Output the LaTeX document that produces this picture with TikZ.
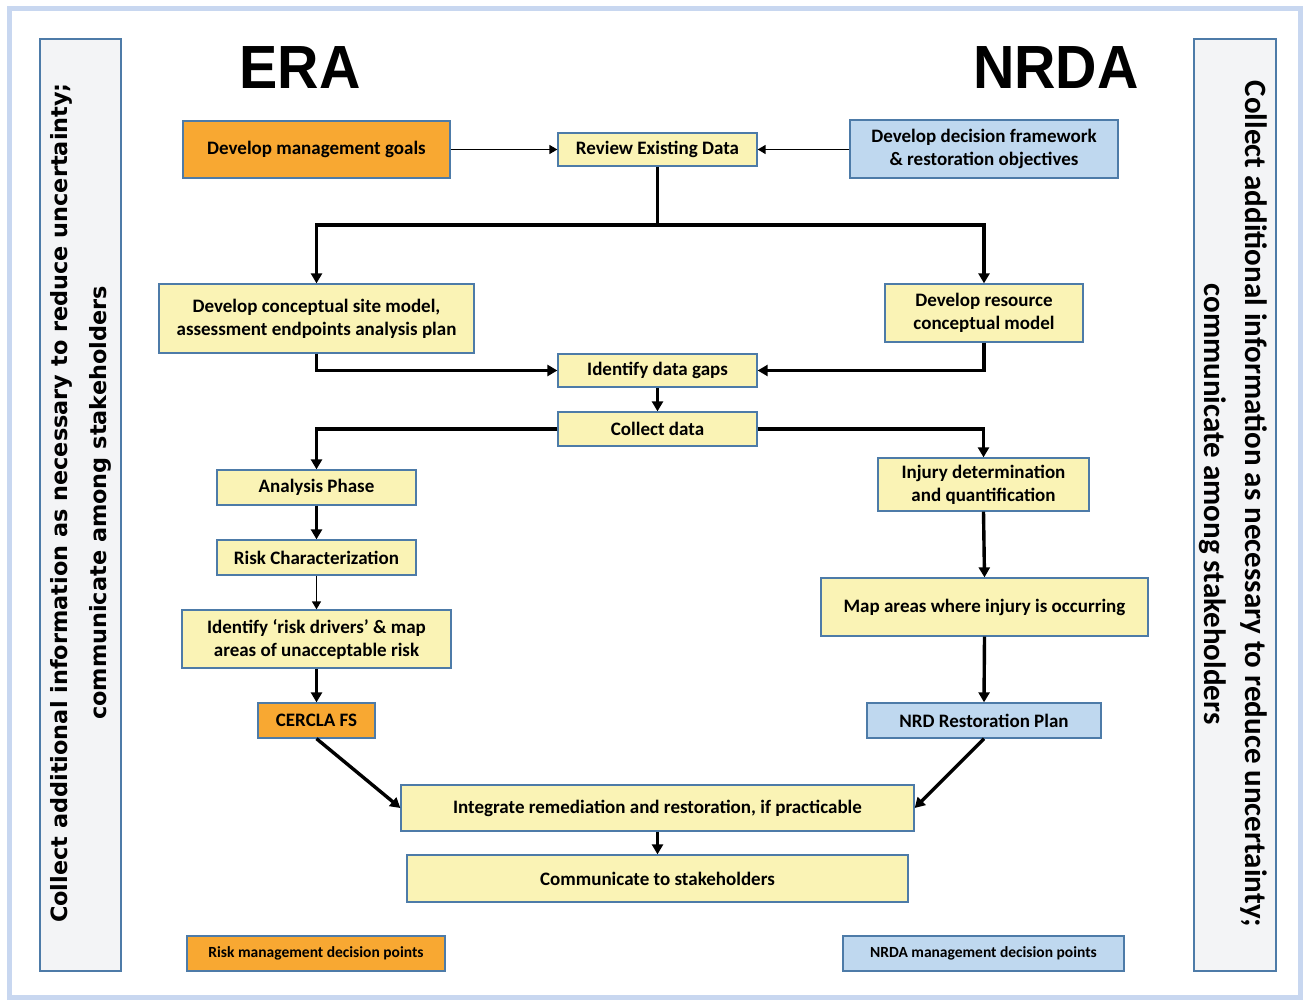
\documentclass[tikz,border=0pt]{standalone}
\usepackage{fontspec}
\setmainfont{Carlito}
\newfontfamily\dvs{DejaVu Sans}
\newfontfamily\lsans{Liberation Sans}
\usetikzlibrary{arrows.meta}
\definecolor{framecol}{HTML}{C8D7F0}
\definecolor{bordercol}{HTML}{4D7BA8}
\definecolor{yel}{HTML}{FAF3B5}
\definecolor{orng}{HTML}{F8A832}
\definecolor{lblue}{HTML}{BFD8EF}
\definecolor{sidefill}{HTML}{F3F4F6}
\begin{document}
\begin{tikzpicture}[x=1pt,y=-1pt,
  box/.style={draw=bordercol,line width=1.3pt,fill=yel,inner sep=0pt,align=center,
    font=\fontsize{19}{23}\selectfont\bfseries},
  orbox/.style={box,fill=orng},
  blbox/.style={box,fill=lblue},
  legend/.style={font=\fontsize{15.5}{17}\selectfont\bfseries},
  thickarr/.style={line width=3.4pt,-{Triangle[length=10pt,width=11pt]}},
  thickline/.style={line width=3.4pt},
  thinarr/.style={line width=1.5pt,-{Triangle[length=8pt,width=9pt]}},
  sidebox/.style={draw=bordercol,line width=1.2pt,fill=sidefill,inner sep=0pt},
  title/.style={font=\lsans\bfseries\fontsize{61}{61}\selectfont}]
\fill[white] (0,0) rectangle (1306,1000);
\useasboundingbox (0,0) rectangle (1306,1000);
\draw[framecol,line width=5pt] (9.5,8.5) rectangle (1300.5,997.5);

% side boxes
\node[sidebox,minimum width=81pt,minimum height=932pt] (lside) at (80.5,505) {};
\node[sidebox,minimum width=82pt,minimum height=932pt] (rside) at (1235,505) {};
\node[rotate=90,align=center,font=\dvs\bfseries\fontsize{22.4}{39}\selectfont] (ltext) at (81,503)
  {Collect additional information as necessary to reduce uncertainty;\\communicate among stakeholders};
\node[rotate=-90,align=center,font=\bfseries\fontsize{31}{41}\selectfont] (rtext) at (1233,504)
  {Collect additional information as necessary to reduce uncertainty;\\communicate among stakeholders};

% titles
\node[title] (era) at (300,68) {\scalebox{0.94}[1]{ERA}};
\node[title] (nrda) at (1056,68) {\scalebox{0.94}[1]{NRDA}};

% nodes
\node[orbox,minimum width=267pt,minimum height=57pt] (goals) at (316.5,149.5) {Develop management goals};
\node[box,minimum width=199pt,minimum height=33pt] (review) at (657.5,149.5) {Review Existing Data};
\node[blbox,minimum width=268pt,minimum height=58pt] (frame) at (984,149) {Develop decision framework\\\& restoration objectives};
\node[box,minimum width=315pt,minimum height=69pt] (csm) at (316.5,318.5) {Develop conceptual site model,\\assessment endpoints analysis plan};
\node[box,minimum width=198pt,minimum height=58pt] (resource) at (984,313) {Develop resource\\conceptual model};
\node[box,minimum width=199pt,minimum height=33pt] (gaps) at (657.5,370.5) {Identify data gaps};
\node[box,minimum width=199pt,minimum height=34pt] (collect) at (657.5,429) {Collect data};
\node[box,minimum width=199pt,minimum height=35pt] (analysis) at (316.5,487.5) {Analysis Phase};
\node[box,minimum width=199pt,minimum height=35pt] (risk) at (316.5,557.5) {Risk Characterization};
\node[box,minimum width=269pt,minimum height=58pt] (drivers) at (316.5,639) {Identify `risk drivers' \& map\\areas of unacceptable risk};
\node[orbox,minimum width=117pt,minimum height=35pt] (cercla) at (316.5,720.5) {CERCLA FS};
\node[box,minimum width=211pt,minimum height=53pt] (injury) at (983.5,484.5) {Injury determination\\and quantification};
\node[box,minimum width=327pt,minimum height=58pt] (map) at (984.5,607) {Map areas where injury is occurring};
\node[blbox,minimum width=234pt,minimum height=35pt] (nrd) at (984,720.5) {NRD Restoration Plan};
\node[box,minimum width=513pt,minimum height=46pt] (integrate) at (657.5,808) {Integrate remediation and restoration, if practicable};
\node[box,minimum width=501pt,minimum height=47pt] (comm) at (657.5,878.5) {Communicate to stakeholders};
\node[orbox,legend,minimum width=258pt,minimum height=35pt] (leg1) at (316,953.5) {Risk management decision points};
\node[blbox,legend,minimum width=281pt,minimum height=35pt] (leg2) at (983.5,953.5) {NRDA management decision points};

% connectors
\draw[thinarr] (goals.east) -- (review.west);
\draw[thinarr] (frame.west |- review.east) -- (review.east);
\coordinate (split) at (657.5,225);
\draw[thickline] (review.south) -- (split);
\draw[thickarr] (split) -| (csm.north);
\draw[thickarr] (split) -| (resource.north);
\draw[thickarr] (csm.south) |- (gaps.west);
\draw[thickarr] (resource.south) |- (gaps.east);
\draw[thickarr] (gaps.south) -- (collect.north);
\draw[thickarr] (collect.west) -| (analysis.north);
\draw[thickarr] (collect.east) -| (injury.north);
\draw[thickarr] (analysis.south) -- (risk.north);
\draw[thinarr] (risk.south) -- (drivers.north);
\draw[thickarr] (drivers.south) -- (cercla.north);
\draw[thickarr] (injury.south) -- (map.north);
\draw[thickarr] (map.south) -- (nrd.north);
\draw[thickarr] (cercla.south) -- (integrate.west);
\draw[thickarr] (nrd.south) -- (integrate.east);
\draw[thickarr] (integrate.south) -- (comm.north);
\end{tikzpicture}
\end{document}
